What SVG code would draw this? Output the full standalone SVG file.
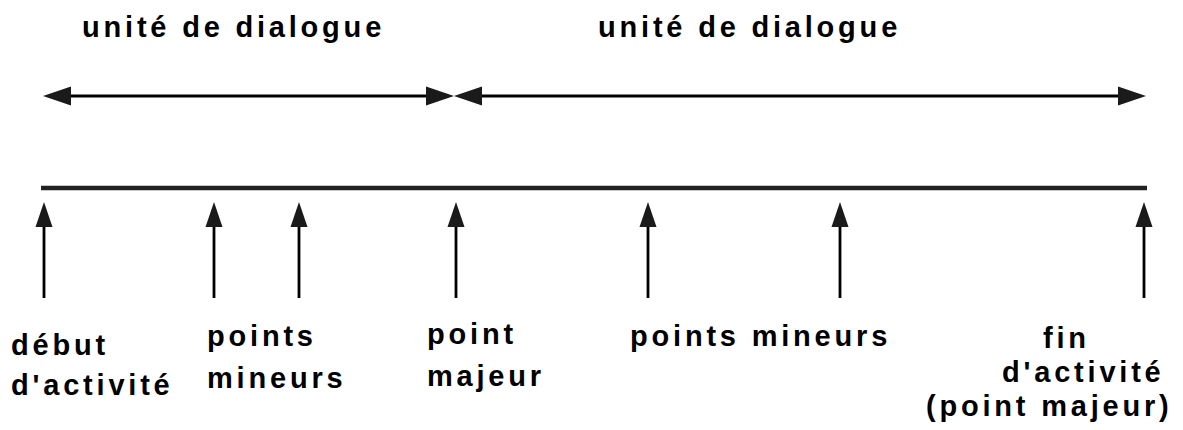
<svg xmlns="http://www.w3.org/2000/svg" width="1183" height="430" viewBox="0 0 1183 430">
  <defs>
    <!-- horizontal span arrowhead: base at refX 0, tip 28px ahead -->
    <marker id="head-h" markerUnits="userSpaceOnUse" markerWidth="28" markerHeight="19" refX="0" refY="9.5" orient="auto-start-reverse" overflow="visible">
      <path d="M0,0 L28,9.5 L0,19 Z" class="head"/>
    </marker>
    <!-- vertical event arrowhead -->
    <marker id="head-v" markerUnits="userSpaceOnUse" markerWidth="25" markerHeight="17" refX="0" refY="8.5" orient="auto" overflow="visible">
      <path d="M0,0 L25,8.5 L0,17 Z" class="head"/>
    </marker>
    <style>
      .head { fill: #1a1a1a; }
      .span { stroke: #000; stroke-width: 3; fill: none; }
      .timeline { stroke: #222; stroke-width: 4.5; fill: none; }
      .event { stroke: #000; stroke-width: 2.8; fill: none; }
      text { font-family: "Liberation Sans", Arial, sans-serif; font-weight: bold; font-size: 29px; letter-spacing: 3.8px; fill: #000; }
    </style>
  </defs>

  <rect width="1183" height="430" fill="#fff"/>

  <!-- dialogue unit titles -->
  <g id="unit-1"><text x="82" y="37">unité de dialogue</text></g>
  <g id="unit-2"><text x="598" y="37">unité de dialogue</text></g>

  <g id="connectors">
    <!-- dialogue unit spans -->
    <line class="span" x1="71" y1="96" x2="426" y2="96" marker-start="url(#head-h)" marker-end="url(#head-h)"/>
    <line class="span" x1="482" y1="96" x2="1118" y2="96" marker-start="url(#head-h)" marker-end="url(#head-h)"/>
    <!-- activity timeline -->
    <line class="timeline" x1="41" y1="188" x2="1147" y2="188"/>
    <!-- synchronisation point arrows -->
    <line class="event" x1="44" y1="298" x2="44" y2="227" marker-end="url(#head-v)"/>
    <line class="event" x1="214" y1="298" x2="214" y2="227" marker-end="url(#head-v)"/>
    <line class="event" x1="299" y1="298" x2="299" y2="227" marker-end="url(#head-v)"/>
    <line class="event" x1="456" y1="298" x2="456" y2="227" marker-end="url(#head-v)"/>
    <line class="event" x1="648" y1="298" x2="648" y2="227" marker-end="url(#head-v)"/>
    <line class="event" x1="840" y1="298" x2="840" y2="227" marker-end="url(#head-v)"/>
    <line class="event" x1="1144" y1="298" x2="1144" y2="227" marker-end="url(#head-v)"/>
  </g>

  <g id="start">
    <text x="11" y="355">début</text>
    <text x="11" y="395">d'activité</text>
  </g>
  <g id="minor-1">
    <text x="207" y="346">points</text>
    <text x="207" y="388">mineurs</text>
  </g>
  <g id="major">
    <text x="427" y="344">point</text>
    <text x="427" y="386">majeur</text>
  </g>
  <g id="minor-2">
    <text x="630" y="346">points mineurs</text>
  </g>
  <g id="end">
    <text x="1043" y="348">fin</text>
    <text x="1002" y="382">d'activité</text>
    <text x="926" y="416">(point majeur)</text>
  </g>
</svg>
